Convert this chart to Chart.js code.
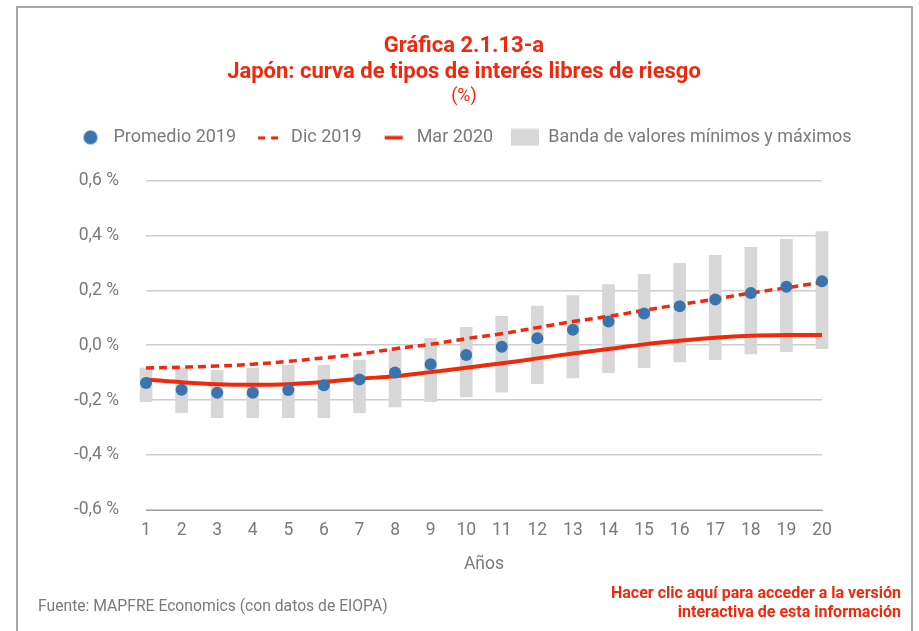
<!DOCTYPE html>
<html lang="es">
<head>
<meta charset="utf-8">
<title>Japón: curva de tipos de interés libres de riesgo</title>
<script src="https://cdn.jsdelivr.net/npm/chart.js@4/dist/chart.umd.min.js"></script>
<style>
  html, body { margin: 0; padding: 0; background: #ffffff; }
  #wrap { position: relative; width: 919px; height: 631px; }
</style>
</head>
<body>
<div id="wrap"><canvas id="curva" width="919" height="631"></canvas></div>
<script>
/* Japón: curva de tipos libres de riesgo (EIOPA) */

const COLORS = {
    red: '#f0280c',
    blue: '#3a73ad',
    band: '#d7d7d7',
    grid: '#cdcdcd',
    text: '#7a7a7a',
    frame: '#a8a8a8',
};
const FONT = "Roboto, 'DejaVu Sans', sans-serif";

// Plazos (años)
const plazos = ['1', '2', '3', '4', '5', '6', '7', '8', '9', '10',
    '11', '12', '13', '14', '15', '16', '17', '18', '19', '20'];

// Promedio 2019 (%)
const promedio2019 = [-0.138, -0.162, -0.173, -0.173, -0.163, -0.146, -0.125, -0.099, -0.069, -0.036,
    -0.006, 0.025, 0.056, 0.086, 0.115, 0.142, 0.166, 0.190, 0.213, 0.233];

// Curva a diciembre 2019 (%)
const dic2019 = [-0.083, -0.080, -0.076, -0.069, -0.059, -0.046, -0.032, -0.013, 0.003, 0.024,
    0.042, 0.064, 0.086, 0.105, 0.127, 0.148, 0.168, 0.190, 0.209, 0.229];

// Curva a marzo 2020 (%)
const mar2020 = [-0.125, -0.135, -0.142, -0.144, -0.142, -0.134, -0.122, -0.113, -0.098, -0.082,
    -0.066, -0.048, -0.030, -0.014, 0.003, 0.016, 0.027, 0.034, 0.037, 0.037];

// Banda de valores mínimos y máximos de 2019 (%)
const bandaMin = [-0.206, -0.246, -0.264, -0.264, -0.264, -0.264, -0.246, -0.225, -0.206, -0.188,
    -0.171, -0.140, -0.119, -0.100, -0.082, -0.061, -0.053, -0.032, -0.024, -0.013];
const bandaMax = [-0.083, -0.083, -0.091, -0.083, -0.073, -0.073, -0.054, -0.016, 0.025, 0.065,
    0.105, 0.142, 0.181, 0.221, 0.258, 0.298, 0.327, 0.356, 0.385, 0.414];

// Marcas del eje vertical
const yMin = -0.6;
const yMax = 0.6;
const yStep = 0.2;

const fmtPct = v => {
    if (Math.abs(v) < 1e-9) v = 0;
    return v.toFixed(1).replace('.', ',') + ' %';
};

// small canvases used as legend symbols
function legendSymbol(draw) {
    const c = document.createElement('canvas');
    c.width = 28;
    c.height = 18;
    draw(c.getContext('2d'));
    return c;
}
const symDot = legendSymbol(ctx => {
    ctx.fillStyle = COLORS.blue;
    ctx.beginPath();
    ctx.arc(14, 9, 7, 0, Math.PI * 2);
    ctx.fill();
});
const symDash = legendSymbol(ctx => {
    ctx.fillStyle = COLORS.red;
    ctx.fillRect(4, 8, 7, 3);
    ctx.fillRect(17, 8, 7, 3);
});
const symLine = legendSymbol(ctx => {
    ctx.fillStyle = COLORS.red;
    ctx.fillRect(5, 7.5, 18, 3.5);
});
const symBand = legendSymbol(ctx => {
    ctx.fillStyle = COLORS.band;
    ctx.fillRect(0, 0.5, 28, 17);
});

// frame round the figure and the source / link lines at the foot
const decorations = {
    id: 'decorations',
    beforeInit(chart) {
        const fit = chart.legend.fit;
        chart.legend.fit = function () {
            fit.call(this);
            this.height += 24;
        };
    },
    beforeDraw(chart) {
        const ctx = chart.ctx;
        ctx.save();
        ctx.fillStyle = '#ffffff';
        ctx.fillRect(0, 0, chart.width, chart.height);
        ctx.strokeStyle = COLORS.frame;
        ctx.lineWidth = 2;
        ctx.beginPath();
        ctx.moveTo(17, 640);
        ctx.lineTo(17, 7);
        ctx.lineTo(912, 7);
        ctx.lineTo(912, 640);
        ctx.stroke();
        ctx.restore();
    },
    afterDraw(chart) {
        const ctx = chart.ctx;
        ctx.save();
        ctx.textBaseline = 'middle';
        ctx.font = '15.7px ' + FONT;
        ctx.fillStyle = COLORS.text;
        ctx.textAlign = 'left';
        ctx.fillText('Fuente: MAPFRE Economics (con datos de EIOPA)', 38, 607);
        ctx.font = 'bold 16px ' + FONT;
        ctx.fillStyle = COLORS.red;
        ctx.textAlign = 'right';
        ctx.fillText('Hacer clic aquí para acceder a la versión', 901, 594);
        ctx.fillText('interactiva de esta información', 901, 613);
        ctx.restore();
    },
};

new Chart(document.getElementById('curva'), {
    data: {
        labels: plazos,
        datasets: [
            {
                type: 'line',
                label: 'Promedio 2019',
                data: promedio2019,
                showLine: false,
                pointRadius: 6,
                pointHoverRadius: 6,
                pointBackgroundColor: COLORS.blue,
                pointBorderColor: COLORS.blue,
                pointBorderWidth: 0,
                order: 1,
                clip: false,
            },
            {
                type: 'line',
                label: 'Dic 2019',
                data: dic2019,
                borderColor: COLORS.red,
                borderWidth: 3.5,
                borderDash: [8, 5],
                tension: 0.4,
                pointRadius: 0,
                fill: false,
                order: 3,
            },
            {
                type: 'line',
                label: 'Mar 2020',
                data: mar2020,
                borderColor: COLORS.red,
                borderWidth: 4,
                tension: 0.4,
                pointRadius: 0,
                fill: false,
                order: 2,
            },
            {
                type: 'bar',
                label: 'Banda de valores mínimos y máximos',
                data: bandaMin.map((lo, i) => [lo, bandaMax[i]]),
                backgroundColor: COLORS.band,
                barThickness: 12,
                borderSkipped: false,
                order: 4,
                clip: false,
            },
        ],
    },
    options: {
        responsive: false,
        animation: false,
        events: [],
        layout: { padding: { left: 16, right: 7, top: 0, bottom: 0 } },
        scales: {
            x: {
                type: 'category',
                offset: false,
                grid: { display: false, drawTicks: false },
                border: { display: true, color: '#9a9a9a', width: 1, dash: [2, 1] },
                ticks: {
                    padding: 10,
                    maxRotation: 0,
                    autoSkip: false,
                    font: { family: FONT, size: 17.5 },
                    color: COLORS.text,
                },
                title: {
                    display: true,
                    text: 'Años',
                    font: { family: FONT, size: 17.5 },
                    color: COLORS.text,
                    padding: { top: 0, bottom: 56 },
                },
                afterFit: s => { s.height = 121; },
            },
            y: {
                min: yMin,
                max: yMax,
                grid: { color: COLORS.grid, lineWidth: 1.5, drawTicks: false },
                border: { display: false },
                ticks: {
                    stepSize: yStep,
                    padding: 27,
                    font: { family: FONT, size: 17.5 },
                    color: COLORS.text,
                    callback: v => fmtPct(v),
                },
                afterFit: s => { s.width = 130; },
            },
            yRight: {
                position: 'right',
                display: true,
                grid: { display: false, drawTicks: false },
                border: { display: false },
                ticks: { display: false },
                afterFit: s => { s.width = 90; },
            },
        },
        plugins: {
            title: {
                display: true,
                text: ['Gráfica 2.1.13-a', 'Japón: curva de tipos de interés libres de riesgo'],
                color: COLORS.red,
                font: { family: FONT, size: 22, weight: 'bold', lineHeight: 1.2 },
                padding: { top: 33, bottom: 0 },
            },
            subtitle: {
                display: true,
                text: '(%)',
                color: COLORS.red,
                font: { family: FONT, size: 18, lineHeight: 1.2 },
                padding: { top: 0, bottom: 3 },
            },
            legend: {
                display: true,
                position: 'top',
                labels: {
                    usePointStyle: true,
                    pointStyleWidth: 28,
                    boxHeight: 18,
                    padding: 18,
                    color: COLORS.text,
                    font: { family: FONT, size: 18 },
                    generateLabels: chart => {
                        const syms = [symDot, symDash, symLine, symBand];
                        return chart.data.datasets.map((ds, i) => ({
                            text: ds.label,
                            pointStyle: syms[i],
                            fillStyle: 'transparent',
                            strokeStyle: 'transparent',
                            lineWidth: 0,
                            fontColor: COLORS.text,
                            hidden: false,
                            datasetIndex: i,
                        }));
                    },
                },
            },
            tooltip: { enabled: false },
        },
    },
    plugins: [decorations],
});
</script>
</body>
</html>
